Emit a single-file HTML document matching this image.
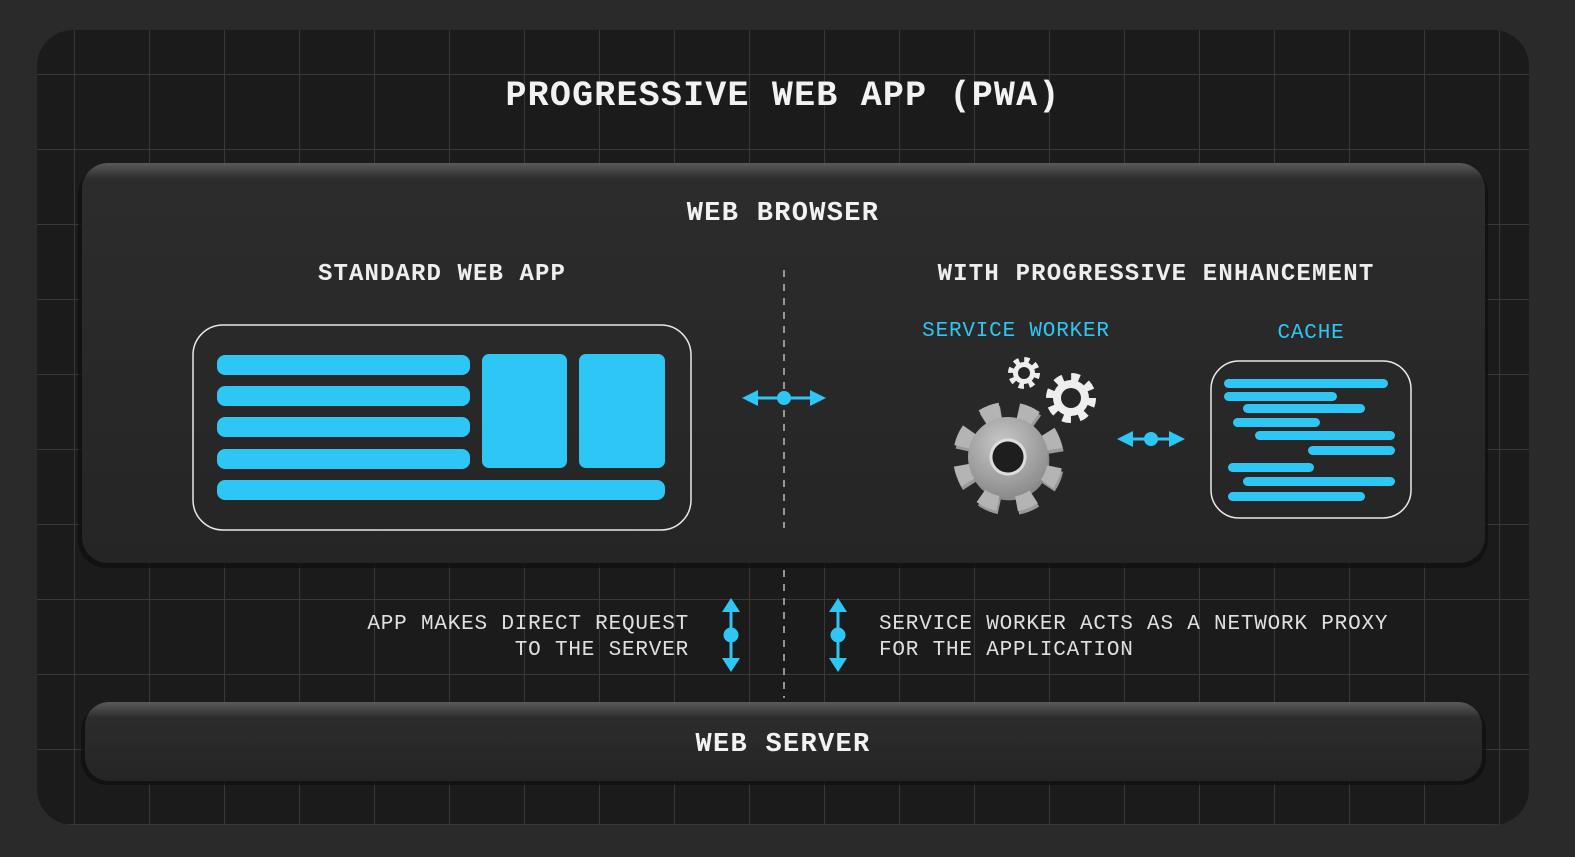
<!DOCTYPE html>
<html><head><meta charset="utf-8"><style>
html,body{margin:0;padding:0;background:#2a2a2a;}
svg{display:block}
text{font-family:"Liberation Mono",monospace;}
</style></head><body>
<svg width="1575" height="857" viewBox="0 0 1575 857" xmlns="http://www.w3.org/2000/svg">
<defs>
<pattern id="grid" x="0" y="0" width="75" height="75" patternUnits="userSpaceOnUse">
<path d="M75 0V75M0 75H75" stroke="#383838" stroke-width="2" fill="none"/>
</pattern>
<clipPath id="panel"><rect x="37" y="30" width="1492" height="795" rx="36"/></clipPath>
<linearGradient id="bx" x1="0" y1="0" x2="0" y2="1">
<stop offset="0" stop-color="#5a5a5a"/><stop offset="0.04" stop-color="#2c2c2c"/><stop offset="1" stop-color="#252525"/>
</linearGradient>
<linearGradient id="sv" x1="0" y1="0" x2="0" y2="1">
<stop offset="0" stop-color="#5a5a5a"/><stop offset="0.2" stop-color="#2c2c2c"/><stop offset="1" stop-color="#252525"/>
</linearGradient>
<radialGradient id="gg" cx="0.4" cy="0.35" r="0.7">
<stop offset="0" stop-color="#c8c8c8"/><stop offset="1" stop-color="#8a8a8a"/>
</radialGradient>
</defs>
<rect width="1575" height="857" fill="#2a2a2a"/>
<g clip-path="url(#panel)">
<rect x="37" y="30" width="1492" height="795" fill="#1b1b1b"/>
<rect x="37" y="30" width="1492" height="795" fill="url(#grid)"/>
</g>

<text x="783" y="105" text-anchor="middle" fill="#f2f2f2" font-size="35" font-weight="bold" letter-spacing="1.2">PROGRESSIVE WEB APP (PWA)</text>

<!-- browser box -->
<rect x="78" y="166" width="1410" height="402" rx="28" fill="#0e0e0e" opacity="0.7"/>
<rect x="82" y="163" width="1403" height="400" rx="26" fill="url(#bx)"/>
<text x="783" y="220" text-anchor="middle" fill="#f2f2f2" font-size="27" font-weight="bold" letter-spacing="1.3">WEB BROWSER</text>
<text x="442" y="280" text-anchor="middle" fill="#eeeeee" font-size="24" font-weight="bold" letter-spacing="1.1">STANDARD WEB APP</text>
<text x="1156" y="280" text-anchor="middle" fill="#eeeeee" font-size="24" font-weight="bold" letter-spacing="1.2">WITH PROGRESSIVE ENHANCEMENT</text>
<text x="1016" y="336" text-anchor="middle" fill="#2ec6f5" font-size="21" letter-spacing="0.8">SERVICE WORKER</text>
<text x="1311" y="338" text-anchor="middle" fill="#2ec6f5" font-size="21" letter-spacing="0.8">CACHE</text>

<!-- app box -->
<rect x="193" y="325" width="498" height="205" rx="30" fill="none" stroke="#e8e8e8" stroke-width="1.5"/>
<g fill="#2ec6f5">
<rect x="217" y="355" width="253" height="20" rx="8"/>
<rect x="217" y="386" width="253" height="20" rx="8"/>
<rect x="217" y="417" width="253" height="20" rx="8"/>
<rect x="217" y="449" width="253" height="20" rx="8"/>
<rect x="217" y="480" width="448" height="20" rx="8"/>
<rect x="482" y="354" width="85" height="114" rx="7"/>
<rect x="579" y="354" width="86" height="114" rx="7"/>
</g>

<!-- dashed divider -->
<line x1="784" y1="270" x2="784" y2="528" stroke="#bbbbbb" stroke-width="1.5" stroke-dasharray="7,7"/>
<line x1="784" y1="570" x2="784" y2="698" stroke="#bbbbbb" stroke-width="1.5" stroke-dasharray="7,7"/>

<!-- horizontal arrows -->
<g fill="#2ec6f5" stroke="#2ec6f5">
<line x1="752" y1="398" x2="816" y2="398" stroke-width="3"/>
<circle cx="784" cy="398" r="7" stroke="none"/>
<polygon points="742,398 758,390 758,406" stroke="none"/>
<polygon points="826,398 810,390 810,406" stroke="none"/>
<line x1="1127" y1="439" x2="1175" y2="439" stroke-width="3"/>
<circle cx="1151" cy="439" r="7" stroke="none"/>
<polygon points="1117,439 1133,431 1133,447" stroke="none"/>
<polygon points="1185,439 1169,431 1169,447" stroke="none"/>
<!-- vertical arrows -->
<line x1="731" y1="606" x2="731" y2="664" stroke-width="3"/>
<circle cx="731" cy="635" r="7.5" stroke="none"/>
<polygon points="731,598 722,612 740,612" stroke="none"/>
<polygon points="731,672 722,658 740,658" stroke="none"/>
<line x1="838" y1="606" x2="838" y2="664" stroke-width="3"/>
<circle cx="838" cy="635" r="7.5" stroke="none"/>
<polygon points="838,598 829,612 847,612" stroke="none"/>
<polygon points="838,672 829,658 847,658" stroke="none"/>
</g>

<!-- gears -->
<g transform="translate(1008,457) rotate(12)">
<circle r="44" fill="none" stroke="#9a9a9a" stroke-width="22" stroke-dasharray="17.3,17.3" transform="translate(2,3)"/>
<circle r="40" fill="#8a8a8a" transform="translate(2,3)"/>
<circle r="44" fill="none" stroke="#b4b4b4" stroke-width="22" stroke-dasharray="17.3,17.3"/>
<circle r="40" fill="url(#gg)"/>
<circle r="17" fill="#1e1e1e" stroke="#ddd" stroke-width="3"/>
</g>
<g transform="translate(1024,373)">
<circle r="12" fill="none" stroke="#eeeeee" stroke-width="8" stroke-dasharray="4.7,4.7"/>
<circle r="11" fill="#eeeeee"/>
<circle r="6" fill="#262626"/>
</g>
<g transform="translate(1071,398)">
<circle r="19" fill="none" stroke="#eeeeee" stroke-width="12" stroke-dasharray="7.46,7.46"/>
<circle r="18" fill="#eeeeee"/>
<circle r="10" fill="#262626"/>
</g>

<!-- cache box -->
<rect x="1211" y="361" width="200" height="157" rx="28" fill="none" stroke="#e8e8e8" stroke-width="1.5"/>
<g fill="#2ec6f5">
<rect x="1224" y="379" width="164" height="9" rx="4.5"/>
<rect x="1224" y="392" width="113" height="9" rx="4.5"/>
<rect x="1243" y="404" width="122" height="9" rx="4.5"/>
<rect x="1233" y="418" width="87" height="9" rx="4.5"/>
<rect x="1255" y="431" width="140" height="9" rx="4.5"/>
<rect x="1308" y="446" width="87" height="9" rx="4.5"/>
<rect x="1228" y="463" width="86" height="9" rx="4.5"/>
<rect x="1243" y="477" width="152" height="9" rx="4.5"/>
<rect x="1228" y="492" width="137" height="9" rx="4.5"/>
</g>

<!-- lower labels -->
<g fill="#e0e0e0" font-size="21" letter-spacing="0.8">
<text x="689" y="629" text-anchor="end">APP MAKES DIRECT REQUEST</text>
<text x="689" y="655" text-anchor="end">TO THE SERVER</text>
<text x="879" y="629">SERVICE WORKER ACTS AS A NETWORK PROXY</text>
<text x="879" y="655">FOR THE APPLICATION</text>
</g>

<!-- server -->
<rect x="81" y="705" width="1405" height="80" rx="26" fill="#0e0e0e" opacity="0.7"/>
<rect x="85" y="702" width="1397" height="79" rx="24" fill="url(#sv)"/>
<text x="783" y="751" text-anchor="middle" fill="#f2f2f2" font-size="27" font-weight="bold" letter-spacing="1.3">WEB SERVER</text>
</svg>
</body></html>
